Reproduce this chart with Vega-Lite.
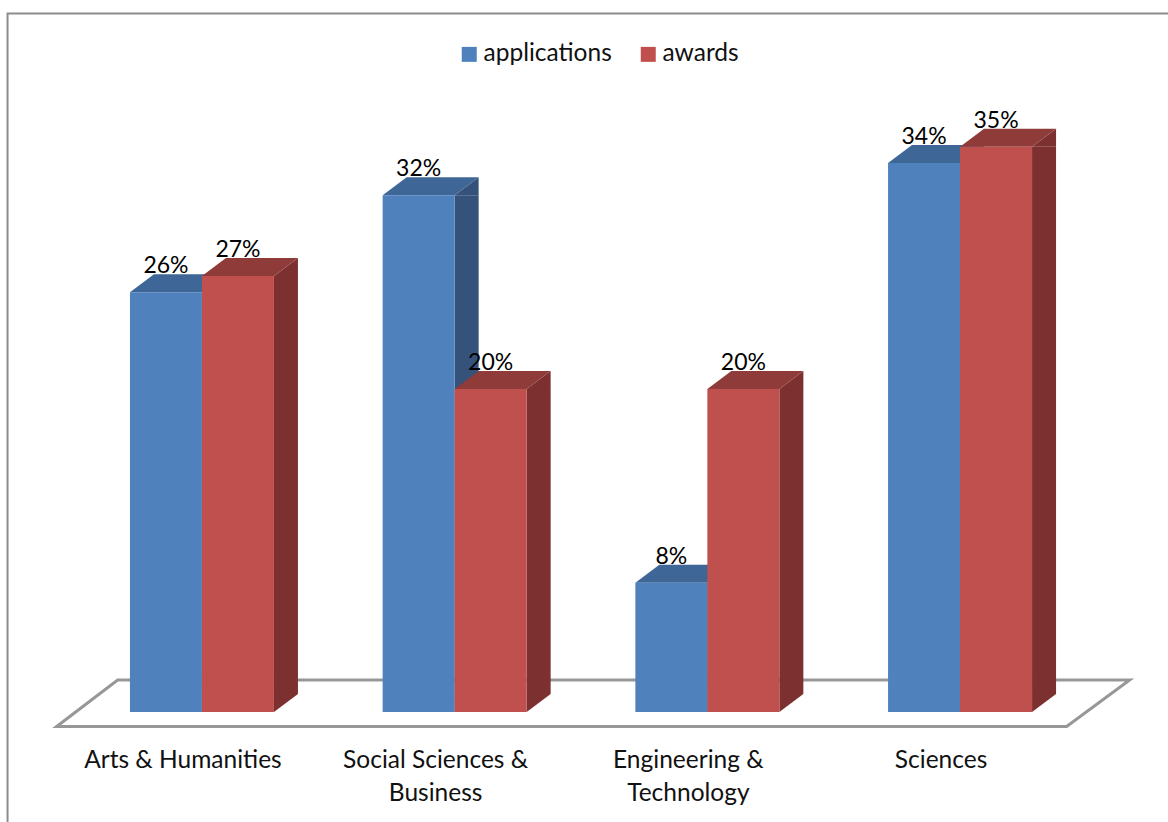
{
"$schema":"https://vega.github.io/schema/vega-lite/v6.json",
"width":1168,"height":712,
"autosize":{"type":"none"},
"padding":{"left":0,"top":0,"right":0,"bottom":110},
"background":"white",
"view":{"stroke":null},
"config":{"font":"Lato"},
"data":{"values":[
{"category":"Arts & Humanities","series":"applications","share":0.26},
{"category":"Arts & Humanities","series":"awards","share":0.27},
{"category":"Social Sciences & Business","series":"applications","share":0.32},
{"category":"Social Sciences & Business","series":"awards","share":0.20},
{"category":"Engineering & Technology","series":"applications","share":0.08},
{"category":"Engineering & Technology","series":"awards","share":0.20},
{"category":"Sciences","series":"applications","share":0.34},
{"category":"Sciences","series":"awards","share":0.35}
]},
"encoding":{
"x":{"field":"category","type":"nominal","title":null,
 "scale":{"domain":["Arts & Humanities","Social Sciences & Business","Engineering & Technology","Sciences"],"range":[75.6,1086.4],"paddingInner":0,"paddingOuter":0},
 "axis":{"domain":false,"ticks":false,"grid":false,"labelAngle":0,"labelPadding":55,"labelOffset":-19,"labelFontSize":24.5,"labelColor":"#111111","labelFont":"Lato","labelLimit":400,"labelLineHeight":33,"labelBaseline":"alphabetic",
  "labelExpr":"datum.label=='Social Sciences & Business'?['Social Sciences &','Business']:datum.label=='Engineering & Technology'?['Engineering &','Technology']:datum.label"}},
"y":{"field":"share","type":"quantitative","title":null,"axis":null,"scale":{"domain":[0,0.4409],"nice":false,"zero":true,"clamp":false}}
},
"resolve":{"scale":{"color":"independent","fill":"independent","xOffset":"independent"}},
"layer":[
{"transform":[{"filter":"datum.category=='Sciences' && datum.series=='awards'"}],
 "mark":{"type":"point","filled":false,"fill":null,"stroke":"#8c8c8c","strokeWidth":2,"size":4,"opacity":1,"shape":"M-952.5,830 L-952.5,-698.5 L216,-698.5","clip":false},
 "encoding":{"y":{"datum":0}}},
{"transform":[{"filter":"datum.category=='Social Sciences & Business' && datum.series=='awards'"}],
 "mark":{"type":"point","filled":true,"fill":"white","stroke":"#979797","strokeWidth":3,"size":4,"opacity":1,"shape":"M-398,14.5 L-337,-32 L675,-32 L612,14.5 Z"},
 "encoding":{"y":{"datum":0}}},
{"mark":{"type":"bar","width":24},
 "encoding":{"y2":{"datum":0.01115},
  "xOffset":{"field":"series","type":"nominal","scale":{"type":"band","domain":["applications","awards"],"range":[102.35,246.35],"paddingInner":0,"paddingOuter":0}},
  "color":{"field":"series","type":"nominal","legend":null,"scale":{"domain":["applications","awards"],"range":["#34527A","#7C3130"]}}}},
{"mark":{"type":"point","filled":true,"size":4,"opacity":1,"strokeWidth":0,"shape":"M36,0 L60,-18 L60,0 Z"},
 "encoding":{
  "xOffset":{"field":"series","type":"nominal","scale":{"type":"band","domain":["applications","awards"],"range":[54.35,198.35],"paddingInner":0,"paddingOuter":0}},
  "fill":{"field":"series","type":"nominal","legend":null,"scale":{"domain":["applications","awards"],"range":["#34527A","#7C3130"]}}}},
{"mark":{"type":"point","filled":true,"size":4,"opacity":1,"strokeWidth":0,"shape":"M36,0 L36,-18 L60,-18 Z"},
 "encoding":{"y":{"datum":0},
  "xOffset":{"field":"series","type":"nominal","scale":{"type":"band","domain":["applications","awards"],"range":[54.35,198.35],"paddingInner":0,"paddingOuter":0}},
  "fill":{"field":"series","type":"nominal","legend":null,"scale":{"domain":["applications","awards"],"range":["#34527A","#7C3130"]}}}},
{"mark":{"type":"point","filled":true,"size":4,"opacity":1,"strokeWidth":0,"shape":"M-36,0 L36,0 L60,-18 L-12,-18 Z"},
 "encoding":{
  "xOffset":{"field":"series","type":"nominal","scale":{"type":"band","domain":["applications","awards"],"range":[54.35,198.35],"paddingInner":0,"paddingOuter":0}},
  "fill":{"field":"series","type":"nominal","legend":null,"scale":{"domain":["applications","awards"],"range":["#3E6696","#8F3B39"]}}}},
{"mark":{"type":"bar","width":72},
 "encoding":{
  "xOffset":{"field":"series","type":"nominal","scale":{"type":"band","domain":["applications","awards"],"range":[54.35,198.35],"paddingInner":0,"paddingOuter":0}},
  "color":{"field":"series","type":"nominal","scale":{"domain":["applications","awards"],"range":["#4F81BD","#C0504D"]},
  "legend":{"title":null,"orient":"none","legendX":457,"legendY":42,"direction":"horizontal","symbolType":"square","symbolSize":225,"symbolStrokeWidth":0,"labelFontSize":24.5,"labelFont":"Lato","labelColor":"#111111","labelOffset":2,"columnPadding":24,"padding":0,"symbolOpacity":1}}}},
{"mark":{"type":"text","fontSize":23,"font":"Lato","color":"#000000","baseline":"alphabetic","align":"center","dy":-19},
 "encoding":{
  "xOffset":{"field":"series","type":"nominal","scale":{"type":"band","domain":["applications","awards"],"range":[54.35,198.35],"paddingInner":0,"paddingOuter":0}},
  "text":{"field":"share","type":"quantitative","format":".0%"}}}
]
}
